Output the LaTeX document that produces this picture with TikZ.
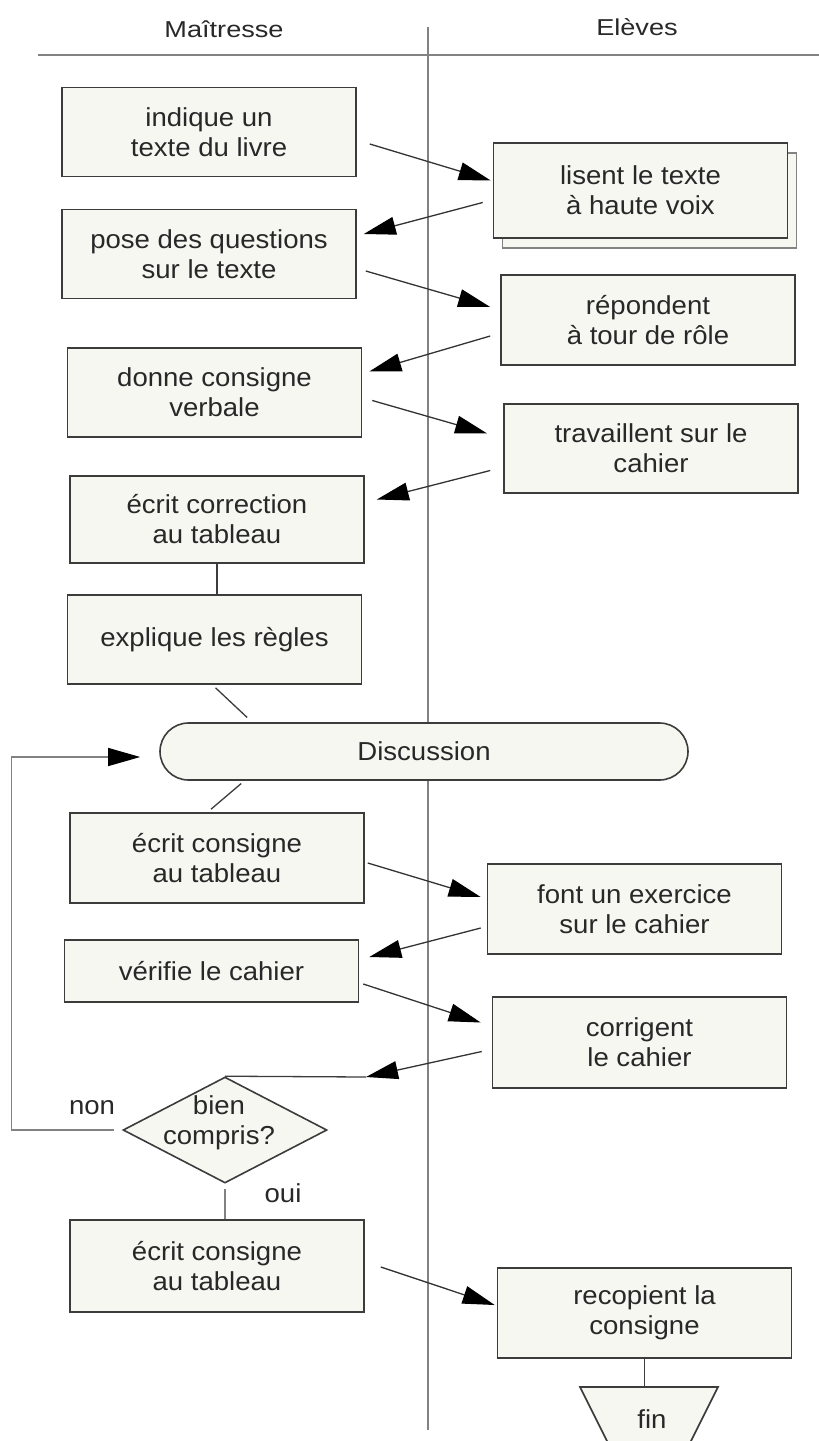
\documentclass[tikz,border=0pt]{standalone}
\usepackage{fontspec}
\setmainfont{Liberation Sans}[FakeStretch=1.06]
\newfontfamily\headfont{Liberation Sans}[FakeStretch=1.18]
\usetikzlibrary{shapes.geometric,shapes.misc,arrows.meta,calc}
\definecolor{boxfill}{RGB}{247,247,242}
\definecolor{edge}{RGB}{60,60,60}
\definecolor{ink}{RGB}{40,40,40}
\definecolor{lane}{RGB}{130,130,130}
\begin{document}
\begin{tikzpicture}[x=1pt,y=-1pt,
  box/.style={draw=edge,line width=1.6pt,fill=boxfill,text=ink,minimum width=294pt,minimum height=#1,align=center,inner sep=0pt,font=\fontsize{26}{30}\selectfont},
  box/.default=89pt,
  txt/.style={text=ink,align=center,inner sep=0pt,font=\fontsize{26}{30}\selectfont},
  head/.style={text=ink,inner sep=0pt,anchor=base,font=\headfont\fontsize{23}{27}\selectfont},
  flow/.style={draw=black!80,line width=1.3pt,-{Triangle[length=32pt,width=18pt,color=black]}},
  link/.style={draw=edge,line width=1.3pt},
  lane/.style={draw=lane,line width=1.8pt}]
\clip (0,0) rectangle (819,1441);
\draw[lane] (38,55) -- (819,55);
\draw[lane] (428,27) -- (428,1430);
\node[head] (mait) at (224,37) {Maîtresse};
\node[head] (elev) at (637,35) {Elèves};
\node[box] (l1) at (209,132) {indique un\\texte du livre};
\node[box] (l2) at (209,254) {pose des questions\\sur le texte};
\node[box] (l3) at (214.5,392.5) {donne consigne\\verbale};
\node[box=87pt] (l4) at (217,519.5) {écrit correction\\au tableau};
\node[box] (l5) at (214.5,639.5) {explique les règles};
\node[box=57pt,rounded rectangle,minimum width=528pt] (disc) at (424,751.5) {Discussion};
\node[box=90pt] (l6) at (217,858) {écrit consigne\\au tableau};
\node[box=62pt] (l7) at (211.5,971) {vérifie le cahier};
\node[draw=edge,line width=1.6pt,fill=boxfill,diamond,minimum width=204pt,minimum height=106pt,inner sep=0pt] (ok) at (225,1130) {};
\node[txt] (oktxt) at (219,1123) {bien\\compris?};
\node[box=92pt] (l8) at (217,1266) {écrit consigne\\au tableau};
\node[box=95pt,draw=lane] (r1b) at (649.5,200.5) {};
\node[box=95pt] (r1) at (640.5,190.5) {lisent le texte\\à haute voix};
\node[box=90pt] (r2) at (648,320) {répondent\\à tour de rôle};
\node[box] (r3) at (651,448.5) {travaillent sur le\\cahier};
\node[box=90pt] (r4) at (634.5,909) {font un exercice\\sur le cahier};
\node[box=91pt] (r5) at (639.5,1042.5) {corrigent\\le cahier};
\node[box=90pt] (r6) at (644.5,1313) {recopient la\\consigne};
\coordinate (fin) at (649,1387);
\draw[draw=edge,line width=1.6pt,fill=boxfill] (580,1387) -- (718,1387) -- (674,1475) -- (624,1475) -- cycle;
\node[txt] (fintxt) at (652,1419) {fin};
\node[txt] (non) at (92,1108) {non};
\node[txt] (oui) at (283,1193) {oui};
\coordinate (bend) at (366,1077);
\draw[flow] ($(l1.east)+(13,12)$) -- ($(r1.west)+(-2,-10)$);
\draw[flow] ($(r1.west)+(-10,12)$) -- ($(l2.east)+(7,-20)$);
\draw[flow] ($(l2.east)+(9,17)$) -- ($(r2.west)+(-10,-13)$);
\draw[flow] ($(r2.west)+(-10,16)$) -- ($(l3.east)+(7,-21)$);
\draw[flow] ($(l3.east)+(10,8)$) -- ($(r3.west)+(-16,-15)$);
\draw[flow] ($(r3.west)+(-13,22)$) -- ($(l4.east)+(12,-20)$);
\draw[link] (l4.south) -- (l4.south |- l5.north);
\draw[link] ($(l5.south)+(1,3)$) -- ($(disc.west)+(88,-34)$);
\draw[link] ($(disc.west)+(82,32)$) -- ($(l6.north)+(-6,-3)$);
\draw[flow] ($(l6.east)+(3,5)$) -- ($(r4.west)+(-6,-12)$);
\draw[flow] ($(r4.west)+(-6,19)$) -- ($(l7.east)+(10,-14)$);
\draw[flow] ($(l7.east)+(4,13)$) -- ($(r5.west)+(-11,-20)$);
\draw[flow] ($(r5.west)+(-10,9)$) -- (bend);
\draw[link] (ok.north) -- (bend);
\draw[flow,draw=lane] ($(ok.west)+(-8,0)$) -- ++(-103,0) |- ($(disc.west)+(-19,5.5)$);
\draw[link,draw=lane] ($(ok.south)+(0,5)$) -- (ok.south |- l8.north);
\draw[flow] ($(l8.east)+(16,1)$) -- ($(r6.west)+(-2,-8)$);
\draw[link] (r6.south) -- (r6.south |- fin);
\end{tikzpicture}
\end{document}
